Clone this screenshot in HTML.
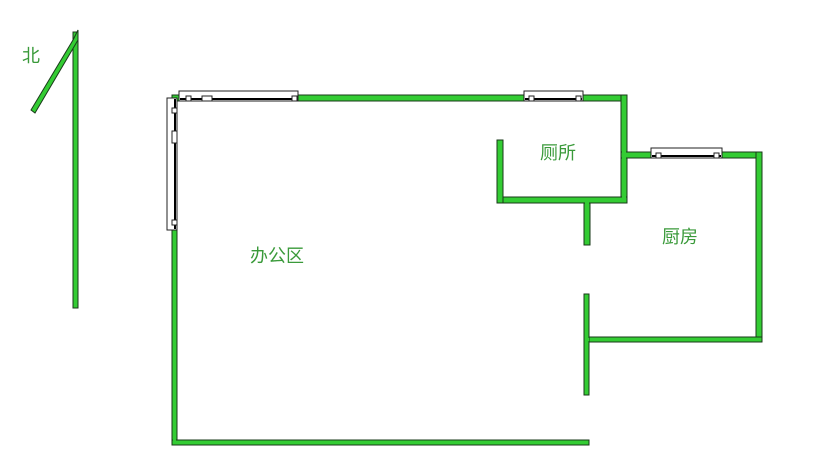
<!DOCTYPE html>
<html><head><meta charset="utf-8"><style>
html,body{margin:0;padding:0;background:#fff;width:839px;height:468px;overflow:hidden}
svg{display:block}
text{font-family:"Liberation Sans","Noto Sans CJK SC",sans-serif;font-size:18px;fill:#3a9a3a}
</style></head><body>
<svg width="839" height="468" viewBox="0 0 839 468">
<g fill="#33cc33" stroke="#1a3a1a" stroke-width="1">
<!-- north arrow -->
<rect x="73" y="32" width="5" height="276"/>
<polygon points="73,40 78,30 78,40 35,113 31,110"/>
<!-- outer -->
<rect x="172" y="95" width="5" height="350"/>
<rect x="172" y="440" width="417" height="5"/>
<rect x="172" y="95" width="455" height="6"/>
<rect x="621" y="95" width="6" height="108"/>
<rect x="497" y="197" width="130" height="6"/>
<rect x="497" y="140" width="6" height="63"/>
<rect x="584" y="203" width="6" height="42"/>
<rect x="621" y="152" width="141" height="6"/>
<rect x="756" y="152" width="6" height="190"/>
<rect x="584" y="337" width="178" height="5"/>
<rect x="584" y="294" width="5" height="101"/>
</g>
<!-- cover joints -->
<g fill="#33cc33">
<rect x="173" y="96" width="3" height="348"/>
<rect x="173" y="441" width="3" height="3"/>
<rect x="622" y="96" width="4" height="106"/>
<rect x="498" y="198" width="4" height="4"/>
<rect x="585" y="198" width="4" height="10"/>
<rect x="622" y="153" width="4" height="4"/>
<rect x="757" y="153" width="4" height="4"/>
<rect x="585" y="338" width="4" height="3"/>
</g>
<!-- windows -->
<g fill="#fff" stroke="#222" stroke-width="1">
<rect x="179" y="91" width="119" height="10"/>
<rect x="524" y="91" width="59" height="10"/>
<rect x="651" y="148" width="71" height="10"/>
<rect x="167" y="98" width="10" height="132"/>
</g>
<g stroke="#000" stroke-width="2">
<line x1="180" y1="99" x2="297" y2="99"/>
<line x1="525" y1="99" x2="582" y2="99"/>
<line x1="652" y1="156" x2="721" y2="156"/>
<line x1="175" y1="99" x2="175" y2="229"/>
</g>
<g fill="#fff" stroke="#222" stroke-width="1">
<rect x="186" y="96" width="5" height="5"/><rect x="202" y="96" width="10" height="5"/><rect x="292" y="96" width="5" height="5"/>
<rect x="529" y="96" width="5" height="5"/><rect x="576" y="96" width="5" height="5"/>
<rect x="656" y="153" width="5" height="5"/><rect x="714" y="153" width="5" height="5"/>
<rect x="172" y="108" width="5" height="5"/><rect x="172" y="131" width="5" height="12"/><rect x="172" y="220" width="5" height="5"/>
</g>
<text x="22" y="62">北</text>
<text x="540" y="159">厕所</text>
<text x="662" y="243">厨房</text>
<text x="250" y="262">办公区</text>
</svg>
</body></html>
